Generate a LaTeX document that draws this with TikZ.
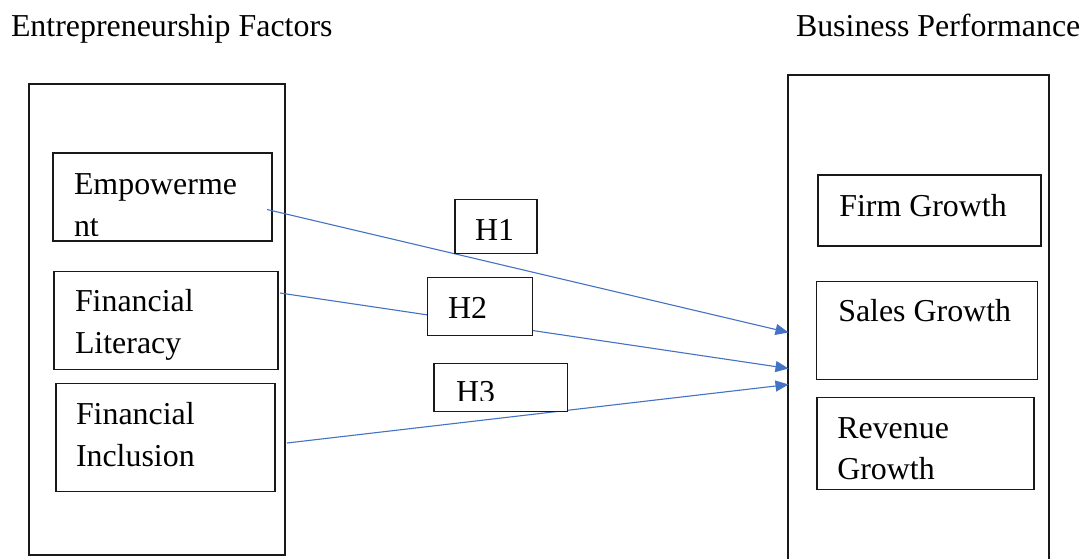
\documentclass[tikz,border=0pt]{standalone}
\usepackage{fontspec}
\setmainfont{Liberation Serif}
\usetikzlibrary{arrows.meta}
\definecolor{linkblue}{HTML}{4472C4}
\begin{document}
\begin{tikzpicture}[x=1pt,y=-1pt,
  box/.style={draw=black!90,line width=1.1pt,fill=white,inner sep=0pt,outer sep=0pt,anchor=north west},
  lbl/.style={anchor=base west,inner sep=0pt,outer sep=0pt,font=\fontsize{31.9}{42}\selectfont},
  link/.style={draw=linkblue,line width=1.1pt,-{Triangle[length=13pt,width=11pt]}}]
\useasboundingbox[fill=white] (0,0) rectangle (1090,558);

% titles
\node[lbl] (title-l) at (11,36.7) {Entrepreneurship Factors};
\node[lbl] (title-r) at (796,36.7) {Business Performance};

% outer frames
\node[box,minimum width=256pt,minimum height=471pt] (ef) at (29,84) {};
\coordinate (bp-bl) at (788,562);
\coordinate (bp-br) at (1049,562);
\draw[draw=black!90,line width=1.1pt] (bp-bl) -- (788,75) -- (1049,75) -- (bp-br);
\node[inner sep=0pt,minimum width=261pt,minimum height=487pt,anchor=north west] (bp) at (788,75) {};

% left boxes
\node[box,minimum width=219pt,minimum height=88pt] (emp) at (53,153) {};
\node[box,minimum width=224pt,minimum height=98pt] (lit) at (54,271.5) {};
\node[box,minimum width=219pt,minimum height=108pt] (inc) at (56,383.5) {};

% right boxes
\node[box,minimum width=223pt,minimum height=71pt] (fg) at (818,175) {};
\node[box,minimum width=220.5pt,minimum height=97.5pt] (sg) at (816.7,281.7) {};
\node[box,minimum width=217pt,minimum height=92pt] (rg) at (817,397.3) {};

% connectors
\coordinate (s1) at (267,209.5);
\coordinate (t1) at (788.5,332.5);
\coordinate (s2) at (280,293);
\coordinate (t2) at (788.5,368.5);
\coordinate (s3) at (287,443);
\coordinate (t3) at (788.5,384.5);
\draw[link] (s1) -- (t1);
\draw[link] (s2) -- (t2);
\draw[link] (s3) -- (t3);

% hypothesis boxes
\node[box,minimum width=82pt,minimum height=54pt] (h1) at (455,199.3) {};
\node[box,minimum width=105pt,minimum height=58pt] (h2) at (427.3,277.7) {};
\node[box,minimum width=133.5pt,minimum height=48.5pt] (h3) at (434,363.3) {};

% texts
\begin{scope}
  \clip (54,154) rectangle (271,235);
  \node[lbl] (t-emp1) at (74,194) {Empowerme};
  \node[lbl] (t-emp2) at (74,236.5) {nt};
\end{scope}
\node[lbl] (t-lit1) at (75,311.7) {Financial};
\node[lbl] (t-lit2) at (75,353.3) {Literacy};
\node[lbl] (t-inc1) at (76,424) {Financial};
\node[lbl] (t-inc2) at (76,466) {Inclusion};

\node[lbl] (t-fg) at (839.3,216) {Firm Growth};
\node[lbl] (t-sg) at (838.3,321.7) {Sales Growth};
\node[lbl] (t-rg1) at (837.3,438.3) {Revenue};
\node[lbl] (t-rg2) at (837.3,479.3) {Growth};

\node[lbl] (t-h1) at (475,240) {H1};
\node[lbl] (t-h2) at (448,318.3) {H2};
\begin{scope}
  \clip (435,364) rectangle (567,400.5);
  \node[lbl] (t-h3) at (456,402.5) {H3};
\end{scope}
\end{tikzpicture}
\end{document}
